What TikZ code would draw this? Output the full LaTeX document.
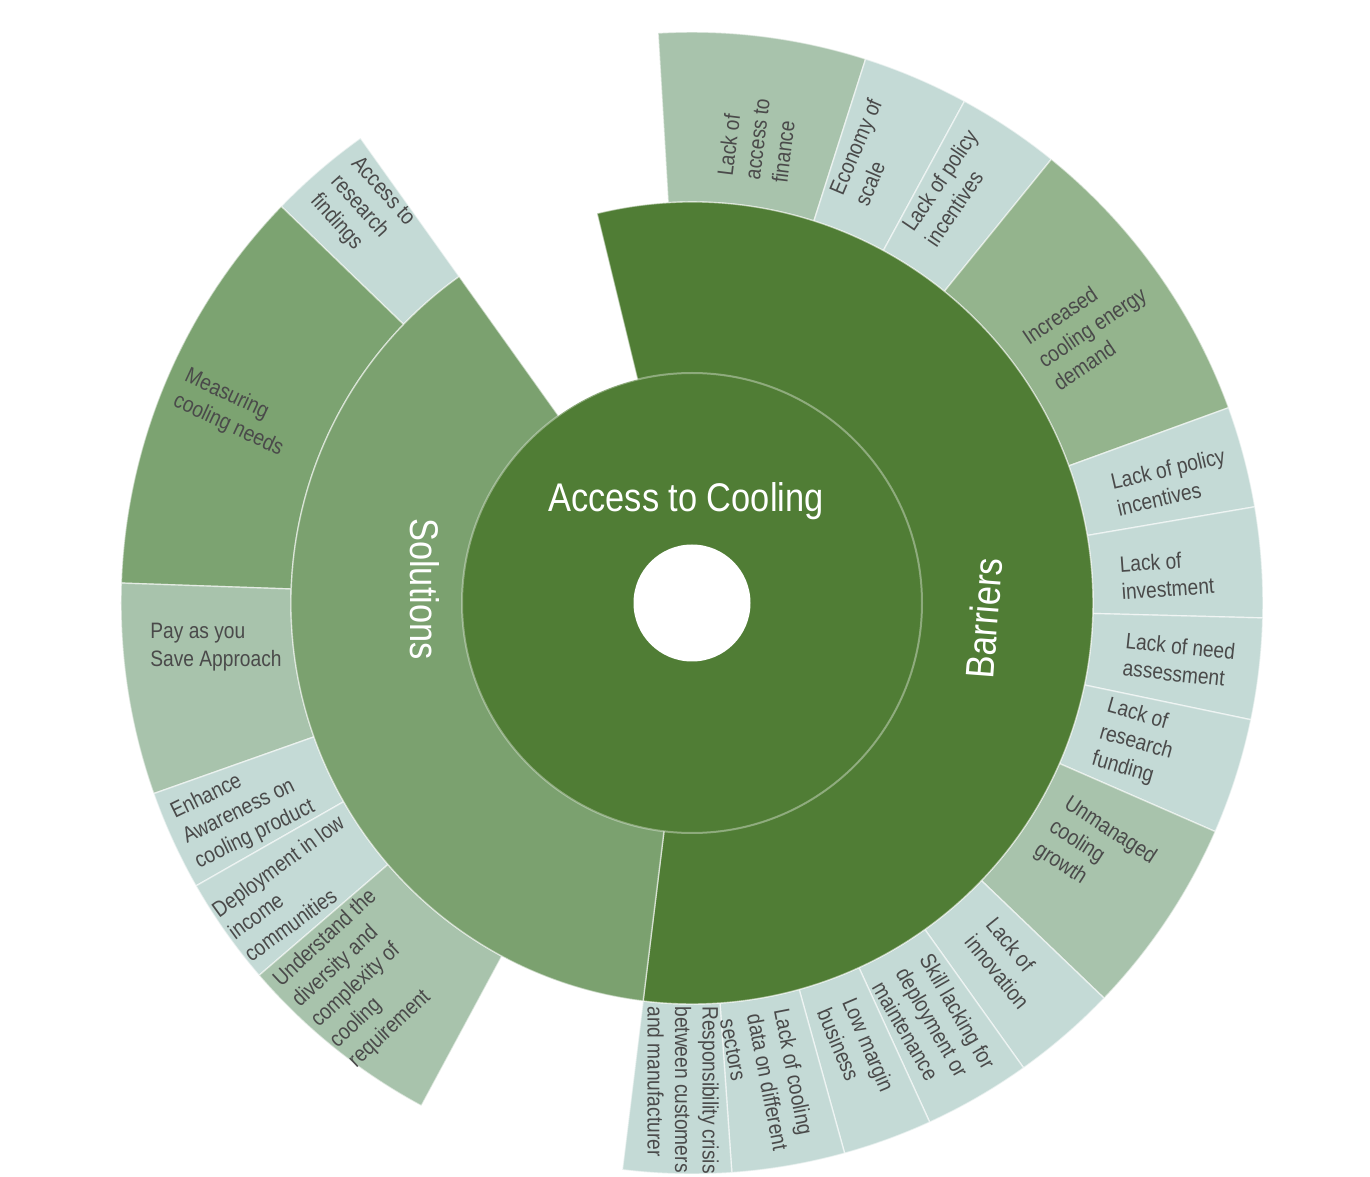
\documentclass[tikz,border=0pt]{standalone}
\usepackage{fontspec}
\setmainfont{Liberation Sans}
\definecolor{deepgreen}{HTML}{507D35}
\definecolor{solgreen}{HTML}{7BA16F}
\definecolor{measgreen}{HTML}{7CA371}
\definecolor{sage}{HTML}{A8C3AC}
\definecolor{moss}{HTML}{94B48D}
\definecolor{mist}{HTML}{C4DAD6}
\definecolor{labelgray}{HTML}{4A4A4A}
% annular sector: inner radius, outer radius, start angle, end angle, fill colour
\newcommand{\annsec}[5]{%
  \path[seg, fill=#5] (#3:#1) arc[start angle=#3, end angle=#4, radius=#1]
    -- (#4:#2) arc[start angle=#4, end angle=#3, radius=#2] -- cycle;}
\begin{document}
\begin{tikzpicture}[x=1pt, y=1pt,
  seg/.style={draw=white, draw opacity=0.55, line width=1.4pt, line join=round},
  % labels are set narrow: rotate first, then squeeze along the baseline
  lbl/.style={text=labelgray, align=left, inner sep=0pt,
    font=\fontsize{22.3}{27.5}\selectfont, rotate=#1, xscale=0.86},
  lbl/.default=0,
  big/.style={text=white, inner sep=0pt, font=\fontsize{40}{48}\selectfont,
    rotate=#1, xscale=0.86},
  big/.default=0]

% page
\fill[white] (-692,-574) rectangle (678,603);

% outer ring: barriers
\annsec{401}{571}{72.3}{93.4}{sage}
\annsec{401}{571}{61.5}{72.3}{mist}
\annsec{401}{571}{51}{61.5}{mist}
\annsec{401}{571}{20}{51}{moss}
\annsec{401}{571}{9.7}{20}{mist}
\annsec{401}{571}{-1.5}{9.7}{mist}
\annsec{401}{571}{-11.8}{-1.5}{mist}
\annsec{401}{571}{-23.6}{-11.8}{mist}
\annsec{401}{571}{-43.8}{-23.6}{sage}
\annsec{401}{571}{-54.5}{-43.8}{mist}
\annsec{401}{571}{-65.4}{-54.5}{mist}
\annsec{401}{571}{-74.5}{-65.4}{mist}
\annsec{401}{571}{-86}{-74.5}{mist}
\annsec{401}{571}{-97}{-86}{mist}

% outer ring: solutions
\annsec{401}{571}{125.5}{136}{mist}
\annsec{401}{571}{136}{178}{measgreen}
\annsec{401}{571}{178}{199.5}{sage}
\annsec{401}{571}{199.5}{209.7}{mist}
\annsec{401}{571}{209.7}{220.7}{mist}
\annsec{401}{571}{220.7}{241.7}{sage}

% middle ring
\annsec{229}{401}{-97}{103.7}{deepgreen}
\annsec{229}{401}{125.5}{263}{solgreen}

% centre disc with its hole
\fill[deepgreen] (0,0) circle[radius=230];
\draw[white, draw opacity=0.35, line width=2pt] (0,0) circle[radius=230];
\fill[white] (0,0) circle[radius=58.5];

% main labels
\node[big, anchor=base] (root) at (-6,91) {Access to Cooling};
\node[big=-90] (sol) at (-267,14) {Solutions};
\node[big=85.6] (bar) at (292,-15) {Barriers};

% barrier labels
\node[lbl=83] (b1) at (65,464) {Lack of\\access to\\finance};
\node[lbl=67] (b2) at (176,451) {Economy of\\scale};
\node[lbl=56] (b3) at (259,415) {Lack of policy\\incentives};
\node[lbl=34] (b4) at (400,276) {Increased\\cooling energy\\demand};
\node[lbl=13] (b5) at (479,121) {Lack of policy\\incentives};
\node[lbl=4] (b6) at (475,28) {Lack of\\investment};
\node[lbl=-6] (b7) at (487,-57) {Lack of need\\assessment};
\node[lbl=-16] (b8) at (444,-140) {Lack of\\research\\funding};
\node[lbl=-33] (b9) at (403,-251) {Unmanaged\\cooling\\growth};
\node[lbl=-51] (b10) at (316,-360) {Lack of\\innovation};
\node[lbl=-60] (b11) at (242,-422) {Skill lacking for\\deployment or\\maintenance};
\node[lbl=-67] (b12) at (164,-447) {Low margin\\business};
\node[lbl=-79] (b13) at (76,-479) {Lack of cooling\\data on different\\sectors};
\node[lbl=-90] (b14) at (-9,-487) {Responsibility crisis\\between customers\\and manufacturer};

% solution labels
\node[lbl=-48] (s1) at (-330,393) {Access to\\research\\findings};
\node[lbl=-25] (s2) at (-458,190) {Measuring\\cooling needs};
\node[lbl] (s3) at (-476,-44) {Pay as you\\Save Approach};
\node[lbl=26] (s4) at (-449,-207) {Enhance\\Awareness on\\cooling product};
\node[lbl=36] (s5) at (-398,-285) {Deployment in low\\income\\communities};
\node[lbl=43] (s6) at (-329,-376) {Understand the\\diversity and\\complexity of\\cooling\\requirement};
\end{tikzpicture}
\end{document}
